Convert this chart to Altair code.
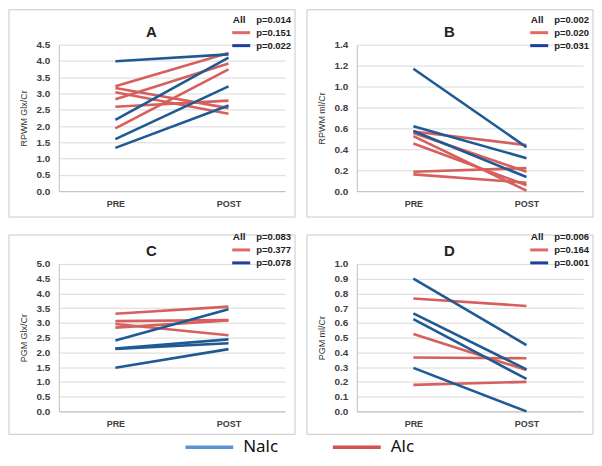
import altair as alt
import pandas as pd

# ---------------- data ----------------
times = ["PRE", "POST"]

A_alc_pre = [3.22, 3.17, 3.04, 2.82, 2.59, 1.93]
A_alc_post = [4.24, 2.55, 2.38, 3.92, 2.78, 3.74]
A_nalc_pre = [3.99, 2.19, 1.60, 1.33]
A_nalc_post = [4.20, 4.10, 3.22, 2.63]
A_p = ["p=0.014", "p=0.151", "p=0.022"]

B_alc_pre = [0.57, 0.555, 0.525, 0.455, 0.185, 0.16]
B_alc_post = [0.44, 0.185, 0.005, 0.057, 0.22, 0.08]
B_nalc_pre = [1.17, 0.62, 0.575]
B_nalc_post = [0.42, 0.315, 0.135]
B_p = ["p=0.002", "p=0.020", "p=0.031"]

C_alc_pre = [3.31, 3.06, 2.96, 2.84]
C_alc_post = [3.55, 3.10, 2.58, 3.08]
C_nalc_pre = [2.40, 2.13, 2.12, 1.48]
C_nalc_post = [3.46, 2.44, 2.31, 2.11]
C_p = ["p=0.083", "p=0.377", "p=0.078"]

D_alc_pre = [0.765, 0.525, 0.365, 0.18]
D_alc_post = [0.715, 0.28, 0.36, 0.20]
D_nalc_pre = [0.90, 0.665, 0.625, 0.295]
D_nalc_post = [0.45, 0.285, 0.22, 0.0]
D_p = ["p=0.006", "p=0.164", "p=0.001"]

groups = ["Alc", "Nalc"]
legend_labels = ["Nalc", "Alc"]

# ---------------- style ----------------
RED = "#D6605E"
BLUE = "#1F5A94"
SW_RED = "#E06A66"
SW_BLUE = "#1E3FA0"
LEG_BLUE = "#5A95D0"
LEG_RED = "#D2504F"
FONT = "Liberation Sans"
W, H_TOP, H_BOT = 227, 147, 148


def frame(alc_pre, alc_post, nalc_pre, nalc_post):
    rows = []
    k = 0
    for g, pre, post in (("Alc", alc_pre, alc_post), ("Nalc", nalc_pre, nalc_post)):
        for a, b in zip(pre, post):
            rows.append({"id": k, "grp": g, "time": times[0], "val": a})
            rows.append({"id": k, "grp": g, "time": times[1], "val": b})
            k += 1
    return pd.DataFrame(rows)


def panel(letter, ytitle, ymax, step, h, box_top, box_h, leg_top, alc_pre, alc_post,
          nalc_pre, nalc_post, pvals, bottom_legend=None):
    df = frame(alc_pre, alc_post, nalc_pre, nalc_post)
    n = int(round(ymax / step))
    ticks = [round(i * step, 2) for i in range(n + 1)]
    lines = alt.Chart(df).mark_line(strokeWidth=2.6).encode(
        x=alt.X("time:N", sort=times,
                scale=alt.Scale(type="point", domain=times, padding=0.5),
                axis=alt.Axis(title=None, labelAngle=0, ticks=False, grid=False,
                              domainColor="#BFBFBF", labelFont=FONT, labelFontSize=9,
                              labelFontWeight="bold", labelColor="#404040", labelPadding=8)),
        y=alt.Y("val:Q", scale=alt.Scale(domain=[0, ymax], nice=False, zero=True),
                axis=alt.Axis(values=ticks, format=".1f", title=ytitle, ticks=False,
                              grid=True, gridColor="#D9D9D9", domainColor="#BFBFBF",
                              labelFont=FONT, labelFontSize=10, labelFontWeight="bold",
                              labelColor="#404040", labelPadding=9,
                              titleFont=FONT, titleFontSize=9, titleFontWeight="normal",
                              titleColor="#333333", titlePadding=8)),
        color=alt.Color("grp:N", scale=alt.Scale(domain=groups, range=[RED, BLUE]), legend=None),
        detail="id:N",
    )
    one = pd.DataFrame({"a": [0]})
    box = alt.Chart(one).mark_rect(fillOpacity=0, stroke="#C9C9C9", strokeWidth=1).encode(
        x=alt.value(-50), x2=alt.value(237), y=alt.value(box_top), y2=alt.value(box_top + box_h))
    title = alt.Chart(one).mark_text(font=FONT, fontSize=15, fontWeight="bold", color="#222222",
                                     align="center", baseline="middle").encode(
        x=alt.value(93), y=alt.value(-13), text=alt.value(letter))
    rx = 237
    layers = [box, lines, title]
    ys = [leg_top, leg_top + 13, leg_top + 26]
    layers.append(alt.Chart(one).mark_text(font=FONT, fontSize=10, fontWeight="bold", color="#222222",
                                           align="center", baseline="middle").encode(
        x=alt.value(rx - 56), y=alt.value(ys[0]), text=alt.value("All")))
    for i, p in enumerate(pvals):
        layers.append(alt.Chart(one).mark_text(font=FONT, fontSize=9.5, fontWeight="bold", color="#222222",
                                               align="left", baseline="middle").encode(
            x=alt.value(rx - 39), y=alt.value(ys[i]), text=alt.value(p)))
    for i, c in ((1, SW_RED), (2, SW_BLUE)):
        layers.append(alt.Chart(one).mark_rule(strokeWidth=3, color=c).encode(
            x=alt.value(rx - 63), x2=alt.value(rx - 45), y=alt.value(ys[i]), y2=alt.value(ys[i])))
    if bottom_legend is not None:
        lab, col, x0, ly = bottom_legend
        layers.append(alt.Chart(one).mark_rule(strokeWidth=3.5, color=col).encode(
            x=alt.value(x0), x2=alt.value(x0 + 48), y=alt.value(ly), y2=alt.value(ly)))
        layers.append(alt.Chart(one).mark_text(font="Noto Sans", fontSize=17, color="#111111",
                                               align="left", baseline="middle").encode(
            x=alt.value(x0 + 58), y=alt.value(ly), text=alt.value(lab)))
    return alt.layer(*layers).properties(width=W, height=h)


pA = panel("A", "RPWM Glx/Cr", 4.5, 0.5, H_TOP, -35, 208, -25,
           A_alc_pre, A_alc_post, A_nalc_pre, A_nalc_post, A_p)
pB = panel("B", "RPWM ml/Cr", 1.4, 0.2, H_TOP, -35, 208, -25,
           B_alc_pre, B_alc_post, B_nalc_pre, B_nalc_post, B_p)
pC = panel("C", "PGM Glx/Cr", 5.0, 0.5, H_BOT, -29, 200, -27,
           C_alc_pre, C_alc_post, C_nalc_pre, C_nalc_post, C_p,
           bottom_legend=(legend_labels[0], LEG_BLUE, 127, 184))
pD = panel("D", "PGM ml/Cr", 1.0, 0.1, H_BOT, -29, 200, -27,
           D_alc_pre, D_alc_post, D_nalc_pre, D_nalc_post, D_p,
           bottom_legend=(legend_labels[1], LEG_RED, -24, 184))

grid = alt.vconcat(alt.hconcat(pA, pB, spacing=10), alt.hconcat(pC, pD, spacing=10), spacing=14)
chart = grid.properties(padding=0).configure_view(strokeWidth=0)

chart.save("out.html", embed_options={"renderer": "svg", "actions": False})
